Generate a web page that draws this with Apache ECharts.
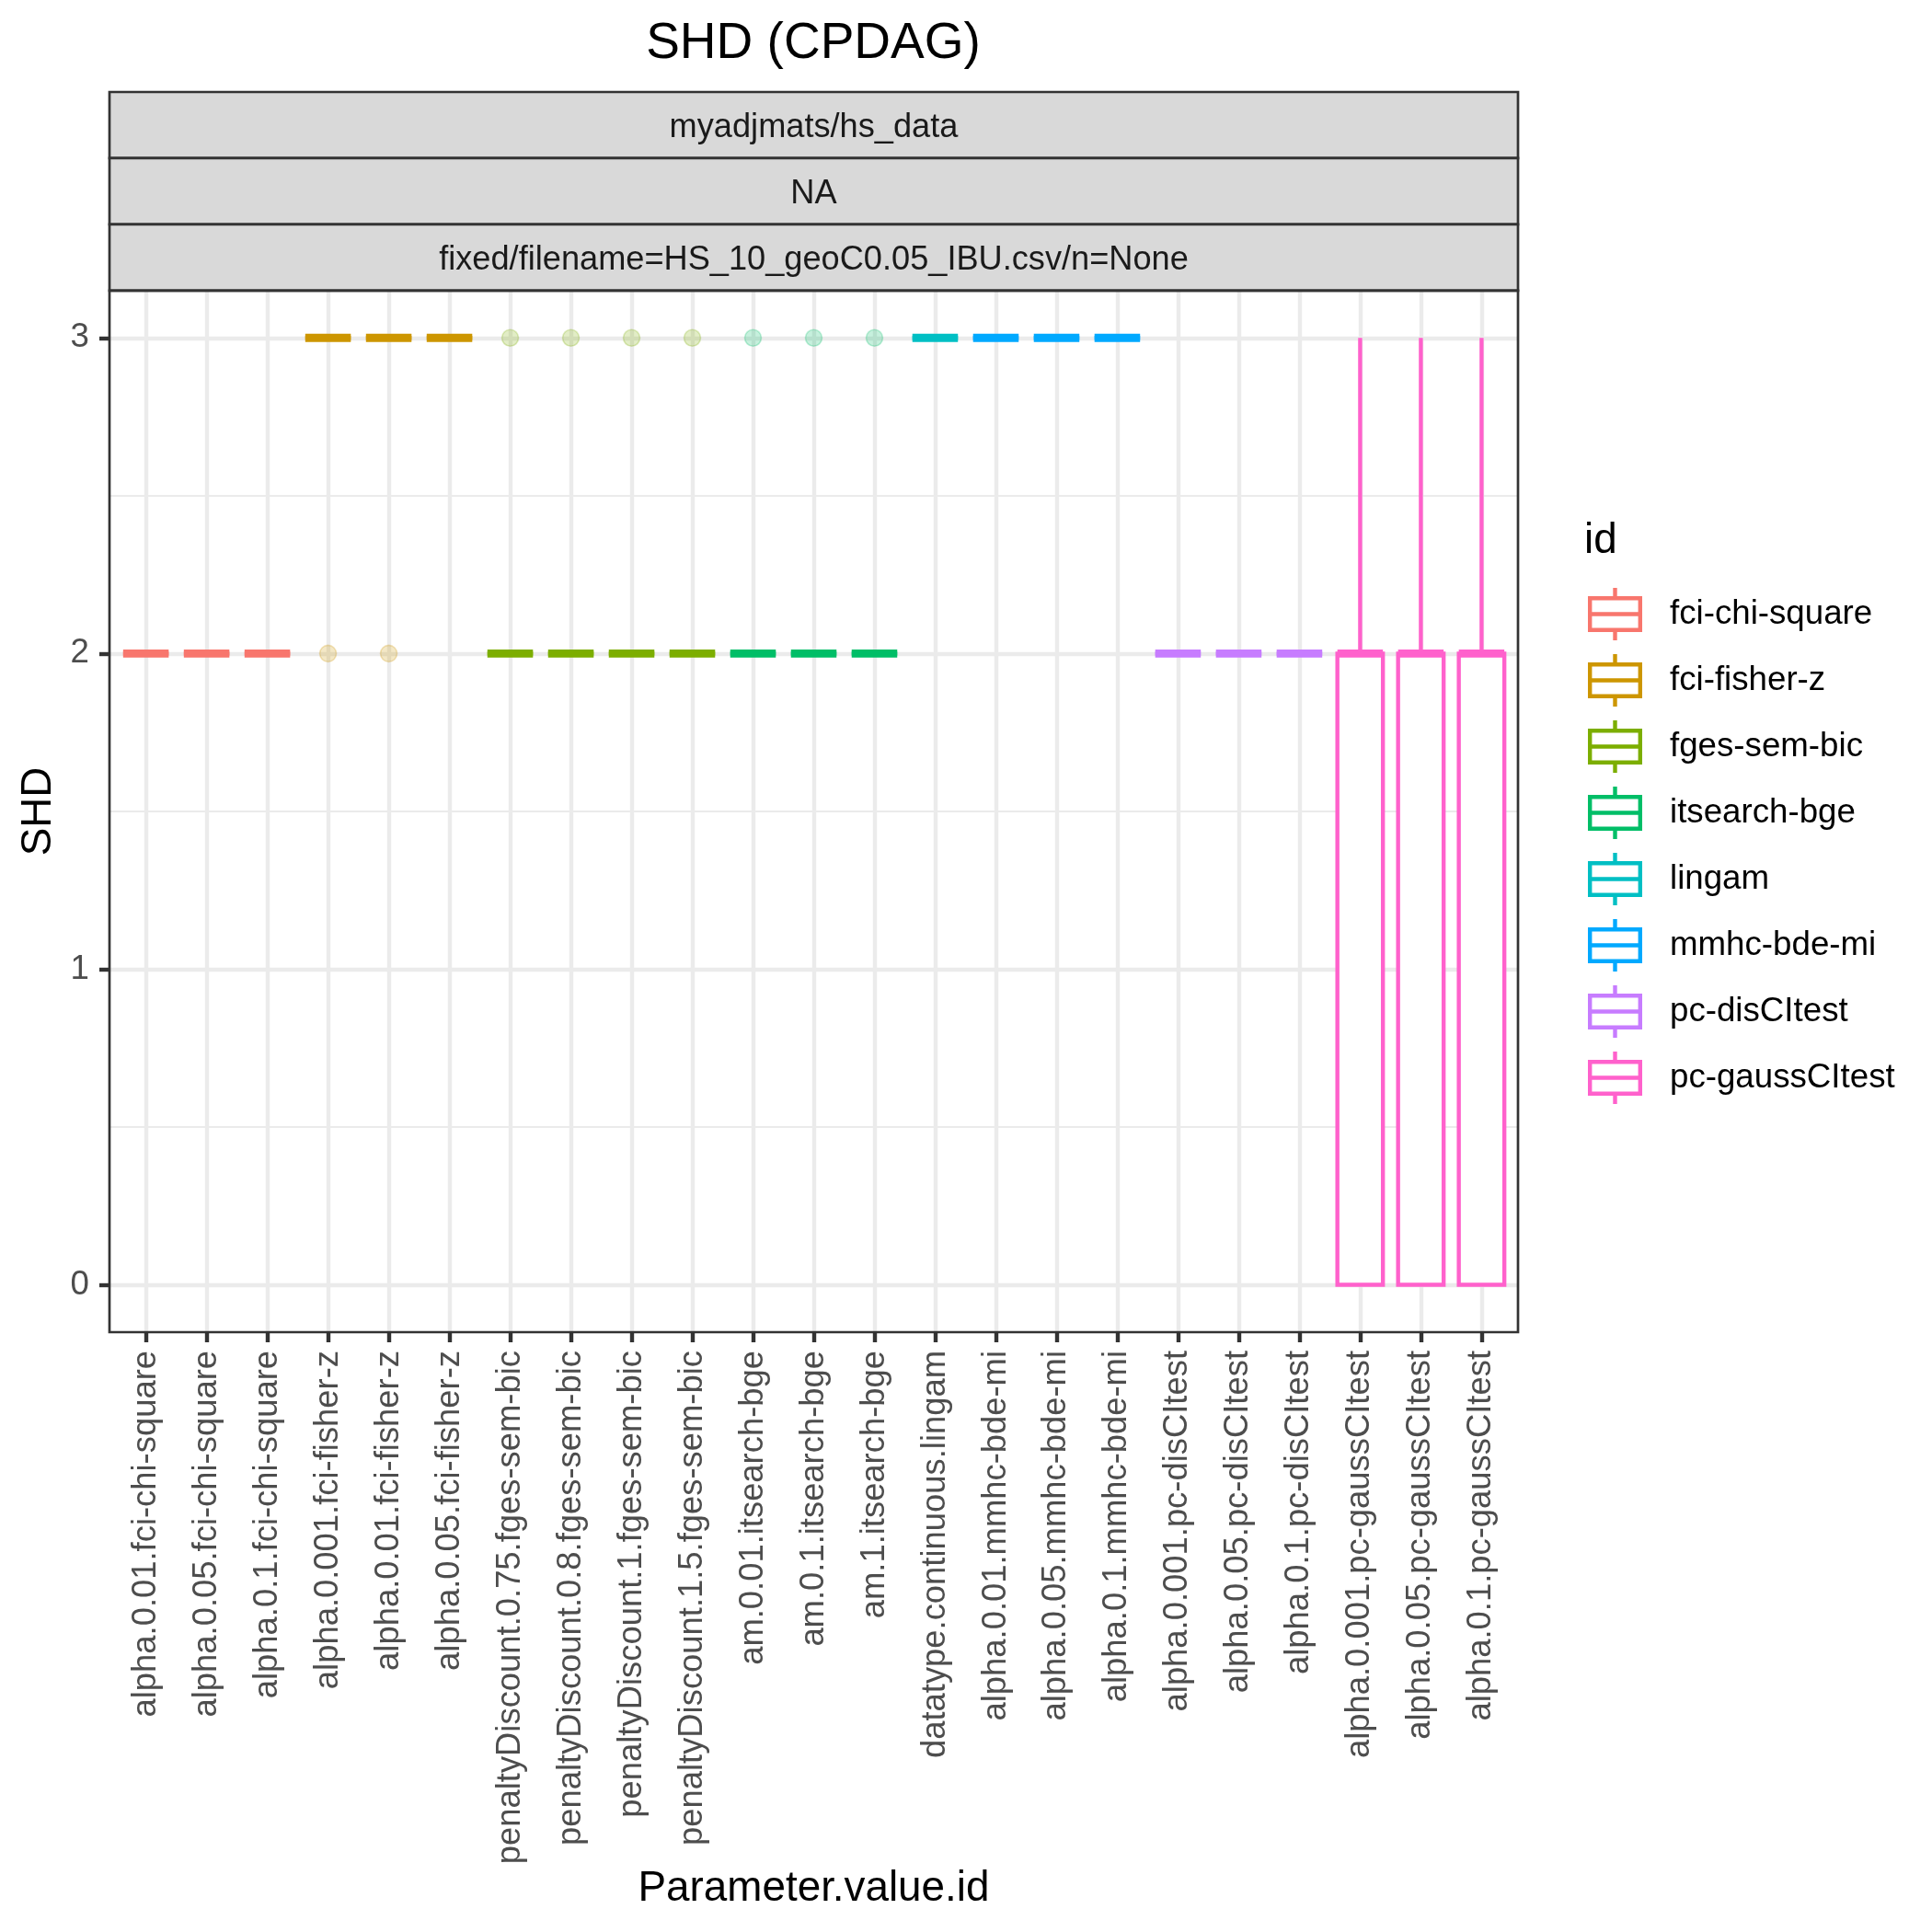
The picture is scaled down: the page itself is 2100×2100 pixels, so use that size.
<!DOCTYPE html>
<html>
<head>
<meta charset="utf-8">
<script src="https://cdn.jsdelivr.net/npm/echarts@6/dist/echarts.min.js"></script>
<style>
html,body{margin:0;padding:0;background:#fff;}
#chart{width:2100px;height:2100px;}
</style>
</head>
<body>
<div id="chart"></div>
<script>
// ---------------- data ----------------
const categories = [
  'alpha.0.01.fci-chi-square','alpha.0.05.fci-chi-square','alpha.0.1.fci-chi-square',
  'alpha.0.001.fci-fisher-z','alpha.0.01.fci-fisher-z','alpha.0.05.fci-fisher-z',
  'penaltyDiscount.0.75.fges-sem-bic','penaltyDiscount.0.8.fges-sem-bic','penaltyDiscount.1.fges-sem-bic','penaltyDiscount.1.5.fges-sem-bic',
  'am.0.01.itsearch-bge','am.0.1.itsearch-bge','am.1.itsearch-bge',
  'datatype.continuous.lingam',
  'alpha.0.01.mmhc-bde-mi','alpha.0.05.mmhc-bde-mi','alpha.0.1.mmhc-bde-mi',
  'alpha.0.001.pc-disCItest','alpha.0.05.pc-disCItest','alpha.0.1.pc-disCItest',
  'alpha.0.001.pc-gaussCItest','alpha.0.05.pc-gaussCItest','alpha.0.1.pc-gaussCItest'
];
const ids = ['fci-chi-square','fci-fisher-z','fges-sem-bic','itsearch-bge','lingam','mmhc-bde-mi','pc-disCItest','pc-gaussCItest'];
const categoryId = [
  'fci-chi-square','fci-chi-square','fci-chi-square',
  'fci-fisher-z','fci-fisher-z','fci-fisher-z',
  'fges-sem-bic','fges-sem-bic','fges-sem-bic','fges-sem-bic',
  'itsearch-bge','itsearch-bge','itsearch-bge',
  'lingam',
  'mmhc-bde-mi','mmhc-bde-mi','mmhc-bde-mi',
  'pc-disCItest','pc-disCItest','pc-disCItest',
  'pc-gaussCItest','pc-gaussCItest','pc-gaussCItest'
];
const boxMin    = [2,2,2, 3,3,3, 2,2,2,2, 2,2,2, 3, 3,3,3, 2,2,2, 0,0,0];
const boxQ1     = [2,2,2, 3,3,3, 2,2,2,2, 2,2,2, 3, 3,3,3, 2,2,2, 0,0,0];
const boxMedian = [2,2,2, 3,3,3, 2,2,2,2, 2,2,2, 3, 3,3,3, 2,2,2, 2,2,2];
const boxQ3     = [2,2,2, 3,3,3, 2,2,2,2, 2,2,2, 3, 3,3,3, 2,2,2, 2,2,2];
const boxMax    = [2,2,2, 3,3,3, 2,2,2,2, 2,2,2, 3, 3,3,3, 2,2,2, 3,3,3];
const outliers  = [[],[],[], [2],[2],[], [3],[3],[3],[3], [3],[3],[3], [], [],[],[], [],[],[], [],[],[]];
const yTicks = [0, 1, 2, 3];
const stripLabels = ['myadjmats/hs_data', 'NA', 'fixed/filename=HS_10_geoC0.05_IBU.csv/n=None'];

// ---------------- styles ----------------
const colors = ['#F8766D','#CD9600','#7CAE00','#00BE67','#00BFC4','#00A9FF','#C77CFF','#FF61CC'];
const FONT = '"Liberation Sans", Arial, Helvetica, sans-serif';
const LW = 4.4;
function rgba(hex, a) {
  const n = parseInt(hex.slice(1), 16);
  return 'rgba(' + ((n >> 16) & 255) + ',' + ((n >> 8) & 255) + ',' + (n & 255) + ',' + a + ')';
}
// panel geometry
const PL = 119, PR = 1650, PT = 315.8, PB = 1448;
const W = 2100, H = 2100;
const unit = (PR - PL) / 23.2;
const catFirst = PL + 0.6 * unit, catLast = PR - 0.6 * unit;
const yUnit = (PB - PT) / 3.3;
const y0 = PB - 0.15 * yUnit, y3 = PT + 0.15 * yUnit;
const CX = (PL + PR) / 2;

const ICON = 'path://M0,9H59V13.4H0Z M0,43.6H59V48H0Z M0,9H4.4V48H0Z M54.6,9H59V48H54.6Z M0,26.3H59V30.7H0Z M27.3,0H31.7V9H27.3Z M27.3,48H31.7V57H27.3Z';

function makeRender(color) {
  return function (params, api) {
    const x = api.value(0);
    const pLow = api.coord([x, api.value(1)]);
    const pQ1 = api.coord([x, api.value(2)]);
    const pMed = api.coord([x, api.value(3)]);
    const pQ3 = api.coord([x, api.value(4)]);
    const pHigh = api.coord([x, api.value(5)]);
    const band = Math.abs(api.coord([1, 0])[0] - api.coord([0, 0])[0]);
    const bw = band * 0.75;
    const cx = pMed[0];
    const children = [];
    if (pHigh[1] < pQ3[1] - 0.5) {
      children.push({type:'line', shape:{x1:cx, y1:pQ3[1], x2:cx, y2:pHigh[1]}, style:{stroke:color, lineWidth:LW}});
    }
    if (pLow[1] > pQ1[1] + 0.5) {
      children.push({type:'line', shape:{x1:cx, y1:pQ1[1], x2:cx, y2:pLow[1]}, style:{stroke:color, lineWidth:LW}});
    }
    children.push({type:'rect', shape:{x:cx - bw/2, y:pQ3[1], width:bw, height:pQ1[1] - pQ3[1]},
      style:{fill:'#ffffff', stroke:color, lineWidth:LW}});
    children.push({type:'line', shape:{x1:cx - bw/2, y1:pMed[1], x2:cx + bw/2, y2:pMed[1]},
      style:{stroke:color, lineWidth:LW * 2, lineCap:'butt'}});
    return {type:'group', children};
  };
}

const series = ids.map((id, g) => {
  const data = [];
  categories.forEach((c, i) => {
    if (categoryId[i] === id) data.push([i, boxMin[i], boxQ1[i], boxMedian[i], boxQ3[i], boxMax[i]]);
  });
  return {
    type:'custom', name:id, xAxisIndex:1, yAxisIndex:1,
    itemStyle:{color:colors[g]},
    encode:{x:0, y:[1,2,3,4,5]},
    renderItem: makeRender(colors[g]),
    clip:false, z:3, silent:true,
    data
  };
});
const outlierData = [];
categories.forEach((c, i) => {
  const col = colors[ids.indexOf(categoryId[i])];
  outliers[i].forEach(v => outlierData.push({
    value:[i, v],
    itemStyle:{color:rgba(col, 0.28), borderColor:rgba(col, 0.3), borderWidth:1.6}
  }));
});
series.push({
  type:'scatter', name:'outliers', xAxisIndex:1, yAxisIndex:1,
  symbol:'circle', symbolSize:18, data:outlierData, z:2, silent:true
});

// strips graphics
const stripTop = 100;
const stripH = (PT - stripTop) / 3;
const graphics = [];
stripLabels.forEach((s, k) => {
  graphics.push({type:'rect', z:50, shape:{x:PL, y:stripTop + k*stripH, width:PR-PL, height:stripH},
    style:{fill:'#D9D9D9', stroke:'#333333', lineWidth:2.7}});
  graphics.push({type:'text', z:51, x:CX, y:stripTop + k*stripH + stripH/2 + 3,
    style:{text:s, fontSize:36.2, fontFamily:FONT, fill:'#1A1A1A', align:'center', verticalAlign:'middle'}});
});
graphics.push({type:'rect', z:60, shape:{x:PL, y:PT, width:PR-PL, height:PB-PT},
  style:{fill:'none', stroke:'#333333', lineWidth:2.7}});
graphics.push({type:'text', z:60, x:884, y:48,
  style:{text:'SHD (CPDAG)', fontSize:55, fontFamily:FONT, fill:'#000', align:'center', verticalAlign:'middle'}});
graphics.push({type:'text', z:60, x:CX, y:2053,
  style:{text:'Parameter.value.id', fontSize:45.8, fontFamily:FONT, fill:'#000', align:'center', verticalAlign:'middle'}});
graphics.push({type:'text', z:60, x:42, y:(PT+PB)/2, rotation:Math.PI/2,
  style:{text:'SHD', fontSize:45.8, fontFamily:FONT, fill:'#000', align:'center', verticalAlign:'middle'}});
graphics.push({type:'text', z:60, x:1722, y:588,
  style:{text:'id', fontSize:45.8, fontFamily:FONT, fill:'#000', align:'left', verticalAlign:'middle'}});

const option = {
  backgroundColor:'#ffffff',
  animation:false,
  textStyle:{fontFamily:FONT},
  grid:[
    {left:PL, right:W-PR, top:y3, bottom:H-y0, containLabel:false},
    {left:catFirst, right:W-catLast, top:PT, bottom:H-PB, containLabel:false}
  ],
  xAxis:[
    {gridIndex:0, type:'value', show:false, min:0, max:1},
    {gridIndex:1, type:'category', data:categories, boundaryGap:false, position:'bottom',
      axisLine:{show:false, onZero:false},
      axisTick:{show:true, interval:0, length:11, lineStyle:{color:'#333333', width:LW}},
      axisLabel:{interval:0, rotate:90, margin:20, fontSize:36.4, color:'#4D4D4D', fontFamily:FONT, hideOverlap:false},
      splitLine:{show:true, interval:0, lineStyle:{color:'#EBEBEB', width:LW}}
    }
  ],
  yAxis:[
    {gridIndex:0, type:'value', min:0, max:3, interval:1,
      axisLine:{show:false, onZero:false},
      axisTick:{show:true, length:11, lineStyle:{color:'#333333', width:LW}},
      axisLabel:{margin:22, fontSize:36.7, color:'#4D4D4D', fontFamily:FONT,
        formatter: v => (yTicks.indexOf(v) >= 0 ? String(v) : '')},
      splitLine:{show:true, lineStyle:{color:'#EBEBEB', width:LW}},
      minorTick:{show:false, splitNumber:2},
      minorSplitLine:{show:true, lineStyle:{color:'#EBEBEB', width:LW/2}}
    },
    {gridIndex:1, type:'value', min:-0.15, max:3.15, show:false}
  ],
  legend:{
    data: ids.map(n => ({name:n, icon:ICON})),
    orient:'vertical', left:1726, top:639,
    itemWidth:59, itemHeight:57, itemGap:15, padding:0,
    selectedMode:false,
    itemStyle:{borderWidth:0},
    textStyle:{fontSize:36.7, color:'#000000', fontFamily:FONT, padding:[0,0,0,25]}
  },
  graphic: graphics,
  series
};
const chart = echarts.init(document.getElementById('chart'), null, {renderer:'canvas', width:2100, height:2100});
chart.setOption(option);
</script>
</body>
</html>
